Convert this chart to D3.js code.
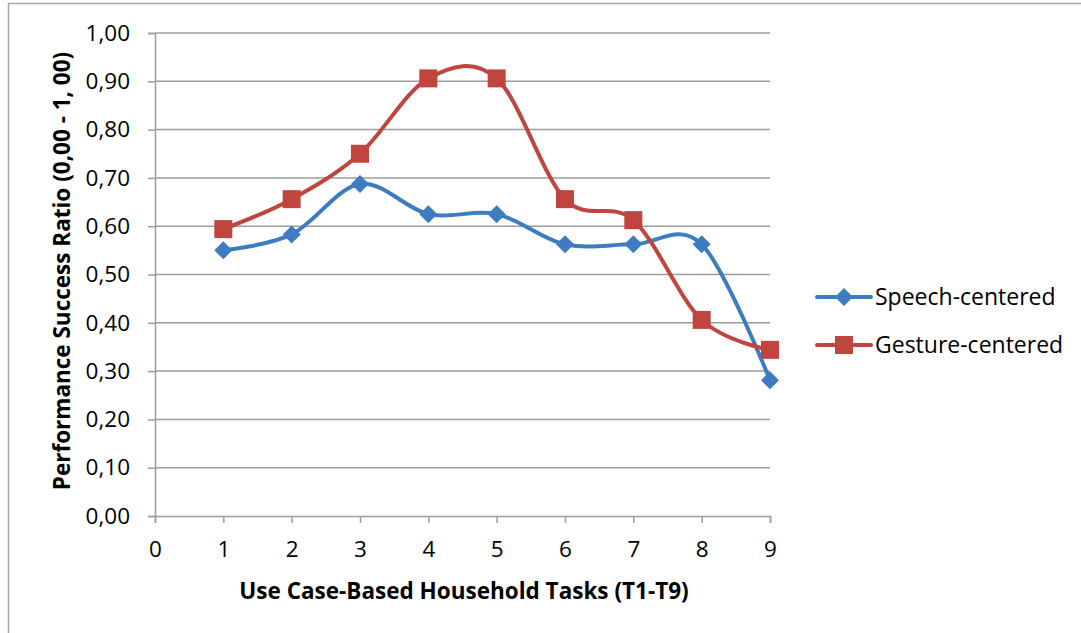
<!DOCTYPE html>
<html>
<head>
<meta charset="utf-8">
<script src="https://cdn.jsdelivr.net/npm/d3@7"></script>
<style>
  html, body { margin: 0; padding: 0; background: #fff; }
  svg { display: block; font-family: "Open Sans", sans-serif; }
</style>
</head>
<body>
<svg id="chart" width="1081" height="633"></svg>
<script>
// Task index (T1–T9) on the x axis
const tasks = [1, 2, 3, 4, 5, 6, 7, 8, 9];
// Performance success ratios per task
const speechCentered  = [0.55, 0.583, 0.6875, 0.625, 0.625, 0.5625, 0.5625, 0.5625, 0.281];
const gestureCentered = [0.594, 0.656, 0.75, 0.906, 0.906, 0.656, 0.6125, 0.406, 0.344];
const seriesNames = ["Speech-centered", "Gesture-centered"];
const xTicks = [0, 1, 2, 3, 4, 5, 6, 7, 8, 9];
const yTicks = [0, 0.1, 0.2, 0.3, 0.4, 0.5, 0.6, 0.7, 0.8, 0.9, 1.0];

const svg = d3.select("#chart");
const plot = { left: 155, right: 770, top: 33, bottom: 516 };

const x = d3.scaleLinear().domain([0, 9]).range([plot.left, plot.right]);
const y = d3.scaleLinear().domain([0, 1]).range([plot.bottom, plot.top]);

const grid = "#9c9c9c";
const blue = "#3d7cc0";
const red = "#c0453f";
const fmt = v => d3.format(".2f")(v).replace(".", ",");
const fontSize = 22.5;

// Outer chart frame
svg.append("rect")
  .attr("x", 8.5).attr("y", 3.5).attr("width", 1100).attr("height", 700)
  .attr("fill", "none").attr("stroke", "#a6a6a6").attr("stroke-width", 1.5);

// Horizontal gridlines
svg.append("g").selectAll("line")
  .data(yTicks.slice(1))
  .join("line")
  .attr("x1", plot.left).attr("x2", plot.right)
  .attr("y1", d => y(d)).attr("y2", d => y(d))
  .attr("stroke", grid).attr("stroke-width", 1.5);

// Y axis
const yAxis = svg.append("g")
  .attr("transform", `translate(${plot.left},0)`)
  .call(d3.axisLeft(y).tickValues(yTicks).tickFormat(fmt).tickSize(7).tickPadding(18));
yAxis.select(".domain").attr("stroke", grid).attr("stroke-width", 1.5);
yAxis.selectAll(".tick line").attr("stroke", grid).attr("stroke-width", 1.5);
yAxis.selectAll("text").attr("font-size", fontSize).attr("fill", "#000")
  .attr("font-family", "'Open Sans', sans-serif");

// X axis
const xAxis = svg.append("g")
  .attr("transform", `translate(0,${plot.bottom})`)
  .call(d3.axisBottom(x).tickValues(xTicks).tickFormat(d3.format("d")).tickSize(7).tickPadding(18));
xAxis.select(".domain").attr("stroke", grid).attr("stroke-width", 1.5);
xAxis.selectAll(".tick line").attr("stroke", grid).attr("stroke-width", 1.5);
xAxis.selectAll("text").attr("font-size", fontSize).attr("fill", "#000")
  .attr("font-family", "'Open Sans', sans-serif");

// Axis titles
svg.append("text")
  .attr("x", 464)
  .attr("y", 599)
  .attr("text-anchor", "middle")
  .attr("font-size", fontSize).attr("font-weight", "bold")
  .text("Use Case-Based Household Tasks (T1-T9)");

svg.append("text")
  .attr("transform", `translate(70,271) rotate(-90)`)
  .attr("text-anchor", "middle")
  .attr("font-size", fontSize).attr("font-weight", "bold")
  .text("Performance Success Ratio (0,00 - 1, 00)");

// Smoothed series lines
const line = d3.line()
  .x(d => x(d[0]))
  .y(d => y(d[1]))
  .curve(d3.curveCardinal.tension(0));

const series = [
  { name: seriesNames[0], values: speechCentered, color: blue, shape: "diamond" },
  { name: seriesNames[1], values: gestureCentered, color: red, shape: "square" }
];

const diamond = s => `M0,${-s}L${s},0L0,${s}L${-s},0Z`;
const square = s => `M${-s},${-s}H${s}V${s}H${-s}Z`;
const markerPath = shape => shape === "diamond" ? diamond(9) : square(9);

series.forEach(s => {
  const pts = tasks.map((t, i) => [t, s.values[i]]);
  svg.append("path")
    .datum(pts)
    .attr("d", line)
    .attr("fill", "none")
    .attr("stroke", s.color)
    .attr("stroke-width", 4)
    .attr("stroke-linecap", "round");
  svg.append("g").selectAll("path")
    .data(pts)
    .join("path")
    .attr("transform", d => `translate(${x(d[0])},${y(d[1])})`)
    .attr("d", markerPath(s.shape))
    .attr("fill", s.color);
});

// Legend
const legend = svg.append("g");
series.forEach((s, i) => {
  const ly = 297 + i * 48;
  legend.append("line")
    .attr("x1", 817).attr("x2", 871).attr("y1", ly).attr("y2", ly)
    .attr("stroke", s.color).attr("stroke-width", 4).attr("stroke-linecap", "round");
  legend.append("path")
    .attr("transform", `translate(844,${ly})`)
    .attr("d", markerPath(s.shape))
    .attr("fill", s.color);
  legend.append("text")
    .attr("x", 875).attr("y", ly)
    .attr("dy", "0.35em")
    .attr("font-size", 23)
    .text(s.name);
});
</script>
</body>
</html>
